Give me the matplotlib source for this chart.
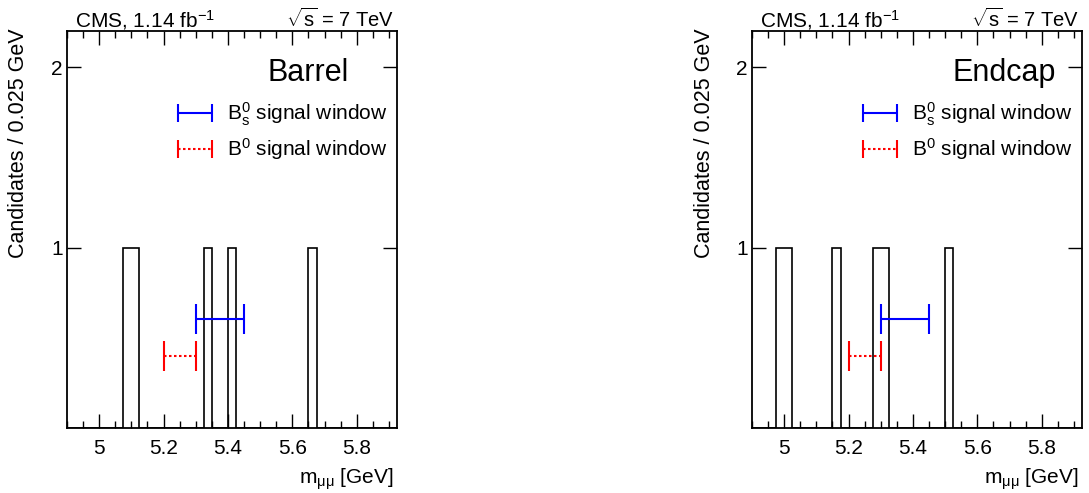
import numpy as np
import matplotlib
matplotlib.use("Agg")
import matplotlib.pyplot as plt
from matplotlib.legend_handler import HandlerErrorbar
from matplotlib.lines import Line2D

plt.rcParams['font.family'] = ['Liberation Sans', 'DejaVu Sans']
plt.rcParams['mathtext.fontset'] = 'custom'
plt.rcParams['mathtext.rm'] = 'Liberation Sans'
plt.rcParams['mathtext.it'] = 'Liberation Sans:italic'
plt.rcParams['mathtext.bf'] = 'Liberation Sans:bold'

# Data: candidate masses (GeV), one per filled 0.025 GeV bin
barrel_masses = [5.0875, 5.1125, 5.3375, 5.4125, 5.6625]
endcap_masses = [4.9875, 5.0125, 5.1625, 5.2875, 5.3125, 5.5125]
bin_width = 0.025
x_min, x_max = 4.9, 5.925
y_min, y_max = 0.5, 2.3

# signal windows (GeV)
bs_window = (5.30, 5.45)
bd_window = (5.20, 5.30)
bs_y = 0.76
bd_y = 0.66

panels = [("Barrel", barrel_masses), ("Endcap", endcap_masses)]
xticks = [5.0, 5.2, 5.4, 5.6, 5.8]
xticklabels = ["5", "5.2", "5.4", "5.6", "5.8"]


class SmallCapErrorbar(HandlerErrorbar):
    def create_artists(self, *args, **kwargs):
        arts = super().create_artists(*args, **kwargs)
        for a in arts:
            if isinstance(a, Line2D) and a.get_marker() == '|':
                a.set_markersize(13)
        return arts


W, H = 1089, 493
fig = plt.figure(figsize=(W / 100, H / 100), dpi=100)

ax_left_px = [67, 752]
ax_w_px = 330
ax_top_px, ax_bot_px = 31, 428

for (name, masses), lpx in zip(panels, ax_left_px):
    ax = fig.add_axes([lpx / W, (H - ax_bot_px) / H, ax_w_px / W, (ax_bot_px - ax_top_px) / H])
    edges = np.arange(x_min, x_max + bin_width / 2, bin_width)
    counts, _ = np.histogram(masses, bins=edges)
    vals = np.where(counts > 0, counts, y_min)
    ax.stairs(vals, edges, baseline=y_min, color='black', lw=1.2)
    ax.set_yscale('log')
    ax.set_xlim(x_min, x_max)
    ax.set_ylim(y_min, y_max)

    # signal windows
    eb = ax.errorbar([np.mean(bs_window)], [bs_y], xerr=[(bs_window[1] - bs_window[0]) / 2],
                     fmt='none', ecolor='#0000ff', elinewidth=1.5, capsize=10.5, capthick=1.5,
                     label=r'$\mathregular{B_s^0}$ signal window')
    eb2 = ax.errorbar([np.mean(bd_window)], [bd_y], xerr=[(bd_window[1] - bd_window[0]) / 2],
                      fmt='none', ecolor='#ff0000', elinewidth=1.5, capsize=10.5, capthick=1.5,
                      label=r'$\mathregular{B^0}$ signal window')
    eb2[2][0].set_linestyle((0, (1.2, 1.2)))

    handler = SmallCapErrorbar(xerr_size=0.82)
    leg = ax.legend(loc='upper left', bbox_to_anchor=(0.336, 0.825), frameon=False, fontsize=15,
                    borderpad=0, borderaxespad=0, handlelength=1.64, handletextpad=0.72,
                    labelspacing=0.4, handler_map={type(eb): handler})

    ax.text(0.608, 0.894, name, transform=ax.transAxes, fontsize=22, ha='left', va='center')

    ax.set_xticks(xticks)
    ax.set_xticklabels(xticklabels)
    ax.xaxis.set_minor_locator(matplotlib.ticker.MultipleLocator(0.05))
    ax.set_yticks([1, 2])
    ax.set_yticklabels(["1", "2"])
    ax.yaxis.set_minor_locator(matplotlib.ticker.NullLocator())
    ax.yaxis.set_minor_formatter(matplotlib.ticker.NullFormatter())
    ax.tick_params(which='both', direction='in', top=True, right=True, labelsize=15)
    ax.tick_params(which='major', length=10, width=1)
    ax.tick_params(which='minor', length=5, width=1)
    ax.tick_params(axis='x', pad=8)
    ax.tick_params(axis='y', pad=3)
    for sp in ax.spines.values():
        sp.set_linewidth(1.3)

    ax.text(0.0 + 8 / ax_w_px, 1 + 4 / 397, r'CMS, 1.14 fb$^{\mathregular{-1}}$', transform=ax.transAxes,
            fontsize=15, ha='left', va='baseline')
    ax.text(1.0 - 3 / ax_w_px, 1 + 4 / 397, r'$\sqrt{\mathregular{s}}$ = 7 TeV', transform=ax.transAxes,
            fontsize=14.5, ha='right', va='baseline')
    ax.text(1.0 - 3 / ax_w_px, -0.098, r'm$_{\mathregular{μμ}}$ [GeV]', transform=ax.transAxes,
            fontsize=15, ha='right', va='top')
    fig.text((lpx - 48) / W, 1 - 28 / H, 'Candidates / 0.025 GeV', rotation=90,
             fontsize=15.5, ha='center', va='top')

fig.savefig('out.png', dpi=100)
